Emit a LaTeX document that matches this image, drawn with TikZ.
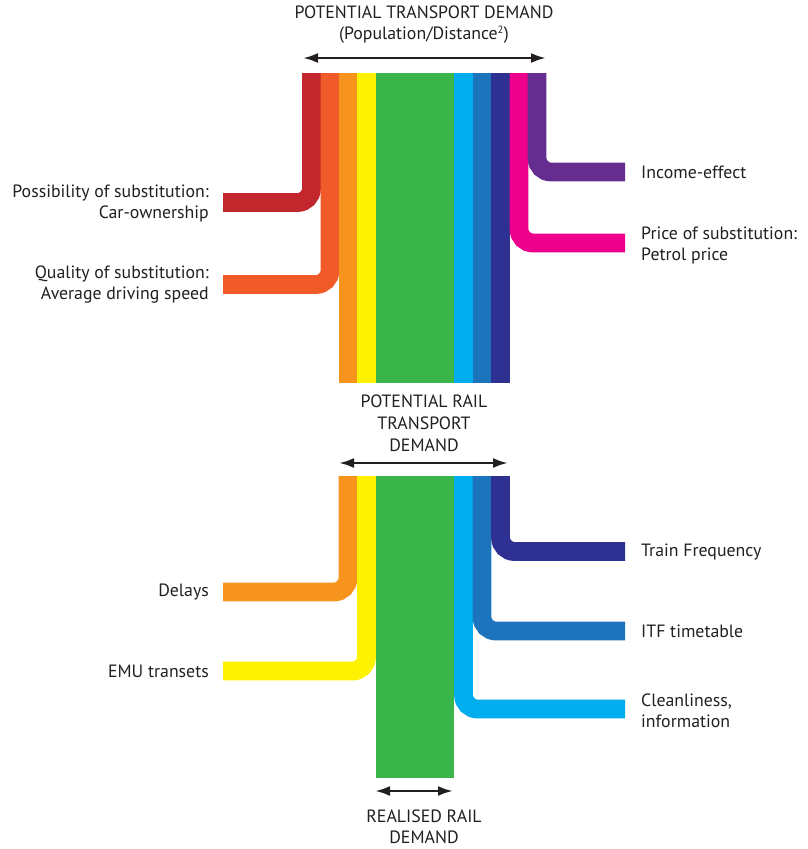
\documentclass[tikz,border=0pt]{standalone}
\usepackage{fontspec}
\setmainfont{PT Sans}
\usetikzlibrary{arrows.meta}
\definecolor{ink}{HTML}{231F20}
\definecolor{cred}{HTML}{C1272D}
\definecolor{corange}{HTML}{F15A29}
\definecolor{camber}{HTML}{F7941D}
\definecolor{cyellow}{HTML}{FFF200}
\definecolor{cgreen}{HTML}{39B54A}
\definecolor{ccyan}{HTML}{00AEEF}
\definecolor{cblue}{HTML}{1C75BC}
\definecolor{cnavy}{HTML}{2E3192}
\definecolor{cmagenta}{HTML}{EC008C}
\definecolor{cpurple}{HTML}{662D91}
\begin{document}
\begin{tikzpicture}[x=1pt,y=-1pt,
    strip/.style={line width=18.8pt,rounded corners=14pt},
    lbl/.style={inner sep=0pt,text=ink,font=\fontsize{17.8}{21}\selectfont},
    span/.style={{Latex[length=15pt,width=10pt]}-{Latex[length=15pt,width=10pt]},line width=2.6pt,draw=ink}]
    \useasboundingbox (0,0) rectangle (808,849);
    \node[lbl,align=center] (title) at (424,25) {POTENTIAL TRANSPORT DEMAND\\(Population/Distance\textsuperscript{\fontsize{10.5}{11}\selectfont 2})};
    \coordinate (t1) at (303,58);
    \coordinate (t2) at (546,58);
    \draw[span] (t1) -- (t2);
    \node[lbl,align=right,anchor=east] (poss) at (209,203) {Possibility of substitution:\\Car-ownership};
    \node[lbl,align=right,anchor=east] (qual) at (209,285) {Quality of substitution:\\Average driving speed};
    \node[lbl,align=left,anchor=west] (income) at (641,172) {Income-effect};
    \node[lbl,align=left,anchor=west] (price) at (641,245) {Price of substitution:\\Petrol price};
    \coordinate (r1) at (311.5,73);
    \coordinate (r2) at (223,202.5);
    \coordinate (o1) at (330,73);
    \coordinate (o2) at (223,284.5);
    \coordinate (p1) at (537,73);
    \coordinate (p2) at (625,172);
    \coordinate (m1) at (519,73);
    \coordinate (m2) at (625,243);
    \draw[strip,cred] (r1) |- (r2);
    \draw[strip,corange] (o1) |- (o2);
    \draw[strip,camber] (348,73) -- (348,383);
    \draw[strip,cyellow] (366.5,73) -- (366.5,383);
    \fill[cgreen] (376,73) rectangle (454,383);
    \draw[strip,ccyan] (463.5,73) -- (463.5,383);
    \draw[strip,cblue] (482,73) -- (482,383);
    \draw[strip,cnavy] (500.5,73) -- (500.5,383);
    \draw[strip,cmagenta] (m1) |- (m2);
    \draw[strip,cpurple] (p1) |- (p2);
    \node[lbl,align=center,font=\fontsize{17.8}{22}\selectfont] (rail) at (424,423) {POTENTIAL RAIL\\TRANSPORT\\DEMAND};
    \coordinate (s1) at (339,463);
    \coordinate (s2) at (508,463);
    \draw[span] (s1) -- (s2);
    \node[lbl,align=right,anchor=east] (delays) at (209,592) {Delays};
    \node[lbl,align=right,anchor=east] (emu) at (209,671) {EMU transets};
    \node[lbl,align=left,anchor=west] (freq) at (641,552) {Train Frequency};
    \node[lbl,align=left,anchor=west] (itf) at (641,631) {ITF timetable};
    \node[lbl,align=left,anchor=west] (clean) at (641,711) {Cleanliness,\\information};
    \coordinate (d1) at (348,476);
    \coordinate (d2) at (223,592);
    \coordinate (e1) at (366.5,476);
    \coordinate (e2) at (223,671);
    \coordinate (f1) at (500.5,476);
    \coordinate (f2) at (625,551.5);
    \coordinate (i1) at (482,476);
    \coordinate (i2) at (625,631);
    \coordinate (c1) at (463.5,476);
    \coordinate (c2) at (625,709);
    \draw[strip,camber] (d1) |- (d2);
    \draw[strip,cyellow] (e1) |- (e2);
    \fill[cgreen] (376,476) rectangle (454,778);
    \draw[strip,ccyan] (c1) |- (c2);
    \draw[strip,cblue] (i1) |- (i2);
    \draw[strip,cnavy] (f1) |- (f2);
    \coordinate (b1) at (375,791);
    \coordinate (b2) at (453,791);
    \draw[span] (b1) -- (b2);
    \node[lbl,align=center] (real) at (424,827) {REALISED RAIL\\DEMAND};
\end{tikzpicture}
\end{document}
